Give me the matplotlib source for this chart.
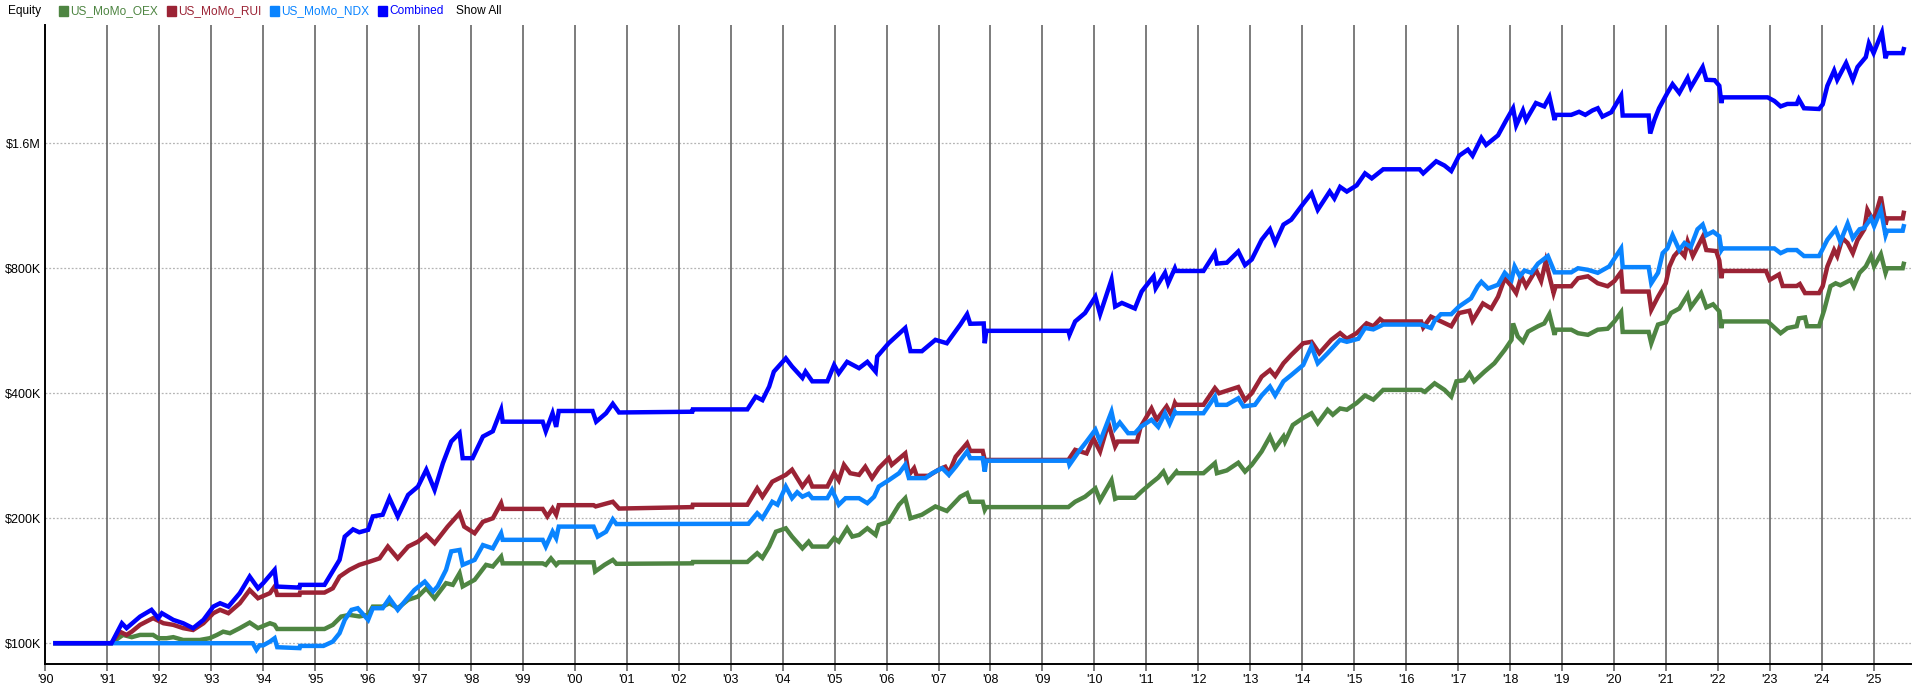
import matplotlib
matplotlib.use("Agg")
import matplotlib.pyplot as plt
from matplotlib.patches import Rectangle
from matplotlib.ticker import FixedLocator, NullLocator

plt.rcParams['font.family'] = ['Liberation Sans', 'DejaVu Sans']

# equity curves, (decimal year, equity in $K)
oex = [(1990.0, 100), (1991.08, 100), (1991.21, 102.8), (1991.30, 104.7), (1991.47, 103.4), (1991.63, 104.7),
       (1991.88, 104.7), (1991.98, 102.8), (1992.14, 102.8), (1992.27, 103.4), (1992.46, 101.8), (1992.78, 101.8),
       (1992.97, 102.8), (1993.11, 104.7), (1993.23, 106.6), (1993.36, 105.7), (1993.55, 108.7), (1993.74, 112.1),
       (1993.90, 108.7), (1994.13, 111.7), (1994.22, 110.7), (1994.27, 108.2), (1995.18, 108.2), (1995.34, 110.7),
       (1995.50, 115.9), (1995.66, 117), (1995.85, 116), (1996.02, 117), (1996.11, 122.5), (1996.30, 122.5),
       (1996.43, 124.8), (1996.59, 121.4), (1996.79, 127.2), (1996.98, 129.5), (1997.14, 135.6), (1997.30, 128.3),
       (1997.52, 139.5), (1997.65, 138.2), (1997.78, 147.4), (1997.84, 137), (1998.07, 142.1), (1998.29, 154.4),
       (1998.42, 153), (1998.58, 161.6), (1998.61, 155.7), (1999.38, 155.7), (1999.44, 154.4), (1999.54, 160),
       (1999.64, 154.4), (1999.69, 156.6), (2000.36, 156.6), (2000.39, 148.8), (2000.57, 154.4), (2000.73, 158.7),
       (2000.80, 155.3), (2002.26, 155.7), (2002.27, 156.9), (2003.32, 156.9), (2003.51, 164.7), (2003.61, 160.5),
       (2003.74, 170.9), (2003.87, 185.6), (2004.06, 189.1), (2004.18, 180.6), (2004.38, 169.2), (2004.50, 175.6),
       (2004.57, 170.9), (2004.86, 170.9), (2004.99, 179), (2005.08, 175.6), (2005.24, 189.1), (2005.34, 180.6),
       (2005.47, 182.3), (2005.63, 189.1), (2005.79, 182.3), (2005.85, 192.6), (2006.04, 196.1), (2006.24, 215.5),
       (2006.36, 223.5), (2006.46, 199.9), (2006.68, 203.9), (2006.94, 213.5), (2007.16, 208.2), (2007.42, 225.3),
       (2007.55, 229.8), (2007.61, 219.1), (2007.85, 219.1), (2007.89, 209.5), (2007.92, 212.7), (2009.50, 212.7),
       (2009.63, 219.1), (2009.82, 225.3), (2010.02, 236), (2010.11, 220.9), (2010.33, 246.8), (2010.40, 222.7),
       (2010.45, 224), (2010.78, 224), (2010.91, 232.1), (2011.10, 243.2), (2011.23, 250.6), (2011.33, 259),
       (2011.42, 245), (2011.58, 259), (2011.60, 256.7), (2012.10, 256.7), (2012.32, 271.4), (2012.36, 256.7),
       (2012.55, 260.7), (2012.77, 272), (2012.90, 259), (2013.03, 268.9), (2013.22, 289.6), (2013.38, 314.6),
       (2013.48, 294.9), (2013.64, 314.6), (2013.67, 306), (2013.82, 335.4), (2014.02, 348.7), (2014.18, 358),
       (2014.30, 338.7), (2014.49, 364.9), (2014.59, 355), (2014.73, 367.6), (2014.86, 365), (2015.05, 378.9),
       (2015.21, 395), (2015.37, 386), (2015.56, 407.5), (2016.29, 407.5), (2016.36, 403), (2016.55, 422.6),
       (2016.74, 407.5), (2016.87, 392.5), (2016.97, 427.3), (2017.12, 430), (2017.22, 446.7), (2017.31, 427.3),
       (2017.51, 450.8), (2017.70, 472.3), (2017.90, 508.8), (2018.03, 537.8), (2018.06, 589), (2018.15, 548),
       (2018.25, 532), (2018.35, 563), (2018.54, 580), (2018.66, 589), (2018.76, 620), (2018.86, 553),
       (2018.88, 569), (2019.18, 569), (2019.31, 558), (2019.50, 553), (2019.69, 569), (2019.88, 572),
       (2020.01, 595.6), (2020.14, 627), (2020.17, 562), (2020.67, 562), (2020.72, 527.8), (2020.85, 585.4),
       (2021.0, 593), (2021.10, 624), (2021.26, 640), (2021.42, 690), (2021.48, 644), (2021.68, 697),
       (2021.78, 644), (2021.91, 655), (2022.03, 630), (2022.07, 574), (2022.09, 595.6), (2022.96, 595.6),
       (2023.03, 585), (2023.21, 558), (2023.34, 574), (2023.52, 580), (2023.56, 606), (2023.68, 609),
       (2023.72, 580), (2023.95, 580), (2024.05, 635), (2024.17, 724), (2024.27, 736), (2024.36, 728),
       (2024.56, 750), (2024.62, 724), (2024.73, 780), (2024.85, 808), (2024.95, 856), (2025.01, 808),
       (2025.14, 865), (2025.23, 780), (2025.26, 800), (2025.56, 800), (2025.58, 820)]

rui = [(1990.0, 100), (1991.08, 100), (1991.24, 106.6), (1991.37, 104.7), (1991.47, 106.6), (1991.63, 110.7),
       (1991.88, 114.9), (1992.08, 111.7), (1992.27, 110.7), (1992.46, 108.7), (1992.65, 107.6), (1992.85, 111.7),
       (1993.04, 118.1), (1993.17, 120.3), (1993.33, 118.1), (1993.55, 124.8), (1993.74, 134.3), (1993.90, 128.3),
       (1994.13, 132), (1994.22, 136.9), (1994.27, 130.7), (1994.70, 130.7), (1994.71, 132.4), (1995.18, 132.4),
       (1995.34, 135.6), (1995.47, 144.7), (1995.66, 150.2), (1995.85, 154.4), (1996.05, 157.2), (1996.24, 160.1),
       (1996.40, 170.9), (1996.59, 160.1), (1996.79, 170.9), (1996.98, 175.6), (1997.14, 182.3), (1997.30, 174.1),
       (1997.55, 190.9), (1997.78, 205.6), (1997.87, 190.9), (1998.07, 184.0), (1998.23, 196.1), (1998.42, 199.9),
       (1998.58, 217.4), (1998.61, 210.6), (1999.38, 210.6), (1999.47, 202), (1999.57, 211), (1999.64, 203.9),
       (1999.69, 215), (2000.36, 215), (2000.40, 213.5), (2000.73, 219.1), (2000.85, 211), (2002.26, 212.7),
       (2002.27, 215.5), (2003.32, 215.5), (2003.51, 236.0), (2003.61, 225.3), (2003.80, 244.9), (2004.06, 254.3),
       (2004.18, 261.7), (2004.38, 238.4), (2004.50, 249.8), (2004.57, 238.4), (2004.86, 238.4), (2004.99, 256.7),
       (2005.08, 246.7), (2005.18, 268.9), (2005.30, 256.7), (2005.47, 254.3), (2005.59, 266), (2005.72, 249.8),
       (2005.85, 264), (2006.04, 279), (2006.10, 268.9), (2006.36, 286.5), (2006.43, 254.3), (2006.53, 264),
       (2006.58, 253), (2006.81, 253), (2007.0, 261.7), (2007.13, 266), (2007.20, 256.7), (2007.33, 281.3),
       (2007.55, 303.1), (2007.61, 290.5), (2007.85, 290.5), (2007.89, 276.3), (2009.50, 276.3), (2009.63, 292.2),
       (2009.85, 286.5), (2009.98, 311.6), (2010.11, 289.6), (2010.27, 338.7), (2010.40, 297.8), (2010.45, 306),
       (2010.82, 306), (2010.89, 331.9), (2011.10, 367.6), (2011.20, 345.3), (2011.39, 371.8), (2011.48, 355),
       (2011.55, 378.9), (2011.57, 375.1), (2012.10, 375.1), (2012.32, 411.5), (2012.40, 400), (2012.77, 414),
       (2012.90, 385), (2013.03, 400), (2013.22, 438.5), (2013.38, 454.8), (2013.48, 440), (2013.64, 472.3),
       (2013.79, 494.8), (2014.02, 527.8), (2014.18, 532), (2014.33, 499.3), (2014.56, 537.8), (2014.73, 558.3),
       (2014.86, 541), (2015.05, 558.3), (2015.24, 589.4), (2015.37, 580), (2015.50, 603.5), (2015.56, 595.6),
       (2016.29, 595.6), (2016.33, 576), (2016.48, 611.5), (2016.87, 580), (2017.02, 624), (2017.22, 632),
       (2017.28, 598), (2017.48, 658), (2017.64, 640), (2017.77, 683), (2017.90, 757), (2018.03, 724),
       (2018.12, 697), (2018.22, 765), (2018.31, 724), (2018.50, 793), (2018.60, 745), (2018.69, 832),
       (2018.76, 765), (2018.84, 697), (2018.88, 724), (2019.18, 724), (2019.31, 757), (2019.50, 765),
       (2019.69, 736), (2019.88, 724), (2020.01, 745), (2020.14, 784), (2020.17, 703), (2020.67, 703),
       (2020.72, 635), (2020.85, 683), (2021.0, 736), (2021.07, 808), (2021.16, 856), (2021.26, 885),
       (2021.36, 856), (2021.42, 927), (2021.52, 856), (2021.71, 952), (2021.78, 885), (2021.97, 880),
       (2022.03, 835), (2022.07, 757), (2022.09, 788), (2022.93, 788), (2023.0, 750), (2023.18, 773),
       (2023.25, 725), (2023.52, 725), (2023.58, 733), (2023.68, 697), (2023.95, 697), (2024.02, 724),
       (2024.11, 808), (2024.24, 885), (2024.30, 856), (2024.40, 945), (2024.50, 920), (2024.60, 870),
       (2024.69, 935), (2024.82, 993), (2024.88, 1106), (2024.98, 1047), (2025.05, 1088), (2025.14, 1190),
       (2025.23, 1019), (2025.26, 1055), (2025.56, 1055), (2025.58, 1088)]

ndx = [(1990.0, 100), (1993.80, 100), (1993.87, 96.4), (1993.93, 98.8), (1994.0, 98.8), (1994.13, 100.9),
       (1994.22, 102.8), (1994.27, 97.8), (1994.70, 97.3), (1994.71, 98.5), (1995.16, 98.5), (1995.34, 100.9),
       (1995.47, 105.7), (1995.57, 113.8), (1995.70, 120.3), (1995.82, 121.4), (1996.02, 113.8), (1996.11, 121.4),
       (1996.30, 121.4), (1996.43, 128.3), (1996.59, 120.3), (1996.75, 127.2), (1996.91, 134.3), (1997.11, 140.7),
       (1997.27, 133.2), (1997.36, 137.1), (1997.52, 150.2), (1997.62, 166.4), (1997.78, 167.7), (1997.84, 154.4),
       (1998.07, 158.7), (1998.23, 172.3), (1998.42, 169.2), (1998.58, 184), (1998.61, 177.4), (1999.38, 177.4),
       (1999.44, 170.9), (1999.57, 185.6), (1999.64, 179), (1999.69, 190.9), (2000.36, 190.9), (2000.44, 180.6),
       (2000.60, 185.6), (2000.73, 198.8), (2000.80, 193.6), (2003.34, 193.9), (2003.51, 205.6), (2003.61, 199.9),
       (2003.80, 219.1), (2003.90, 215.5), (2004.06, 238.4), (2004.18, 223.5), (2004.28, 231), (2004.38, 225.3),
       (2004.50, 229), (2004.57, 223.5), (2004.86, 223.5), (2004.95, 234), (2005.08, 215.5), (2005.21, 223.5),
       (2005.47, 223.5), (2005.63, 217.4), (2005.76, 225.3), (2005.85, 238.4), (2006.04, 246.8), (2006.24, 256.7),
       (2006.36, 268.9), (2006.43, 249.8), (2006.75, 249.8), (2006.88, 256.7), (2007.07, 264), (2007.20, 254.3),
       (2007.33, 266), (2007.55, 289.6), (2007.61, 279), (2007.85, 279), (2007.89, 259), (2007.92, 275.1),
       (2009.50, 275.1), (2009.52, 268.9), (2009.70, 289.6), (2009.85, 306), (2010.02, 326.8), (2010.11, 306),
       (2010.33, 361), (2010.40, 329), (2010.49, 340), (2010.65, 320.5), (2010.78, 320.5), (2010.89, 331.9),
       (2011.10, 345.3), (2011.23, 331.9), (2011.36, 358), (2011.45, 338), (2011.55, 361), (2011.57, 358),
       (2012.10, 358), (2012.32, 392.5), (2012.36, 375), (2012.55, 375), (2012.77, 389), (2012.87, 371.8),
       (2013.09, 375), (2013.22, 395), (2013.38, 415), (2013.48, 395), (2013.64, 427.3), (2013.79, 442.4),
       (2014.02, 467.8), (2014.18, 518.8), (2014.30, 472.3), (2014.49, 499.3), (2014.73, 537.8), (2014.86, 532),
       (2015.08, 541), (2015.21, 574.3), (2015.37, 570), (2015.56, 585.4), (2016.29, 585.4), (2016.48, 574.3),
       (2016.55, 598), (2016.67, 620), (2016.87, 620), (2017.02, 647), (2017.25, 677), (2017.38, 724),
       (2017.45, 742), (2017.58, 715), (2017.77, 730), (2017.90, 780), (2018.03, 750), (2018.09, 808),
       (2018.19, 765), (2018.28, 790), (2018.41, 780), (2018.54, 821), (2018.73, 856), (2018.79, 821),
       (2018.86, 782), (2019.18, 782), (2019.31, 800), (2019.50, 793), (2019.69, 780), (2019.91, 808),
       (2020.14, 893), (2020.17, 805), (2020.67, 805), (2020.72, 736), (2020.85, 780), (2020.94, 870),
       (2021.03, 893), (2021.13, 961), (2021.26, 885), (2021.36, 920), (2021.48, 900), (2021.61, 993),
       (2021.71, 1019), (2021.78, 961), (2021.91, 980), (2022.03, 955), (2022.07, 885), (2022.09, 893),
       (2023.09, 893), (2023.21, 870), (2023.34, 885), (2023.52, 885), (2023.66, 856), (2023.95, 856),
       (2024.11, 937), (2024.27, 993), (2024.36, 927), (2024.50, 1025), (2024.60, 945), (2024.73, 993),
       (2024.82, 1000), (2024.95, 1056), (2025.01, 1010), (2025.14, 1106), (2025.23, 961), (2025.26, 985),
       (2025.56, 985), (2025.58, 1010)]

combined = [(1990.0, 100), (1991.08, 100), (1991.28, 111.7), (1991.37, 108.7), (1991.63, 115.9), (1991.85, 120.3),
            (1991.98, 114.9), (1992.05, 118.1), (1992.27, 113.8), (1992.46, 111.7), (1992.65, 108.7), (1992.85, 113.8),
            (1993.04, 122.5), (1993.17, 124.8), (1993.33, 122.5), (1993.55, 132.0), (1993.74, 144.7), (1993.90, 135.6),
            (1994.0, 139.5), (1994.22, 150.2), (1994.26, 136.9), (1994.70, 136.1), (1994.71, 138.2), (1995.18, 138.2),
            (1995.47, 158.7), (1995.57, 180.6), (1995.73, 188), (1995.85, 185), (1996.02, 187.5), (1996.11, 202),
            (1996.30, 203.9), (1996.43, 223.5), (1996.59, 202), (1996.79, 227.6), (1996.98, 238.4), (1997.14, 261.7),
            (1997.30, 234), (1997.46, 271.4), (1997.62, 306), (1997.78, 320.5), (1997.84, 279), (1998.03, 279),
            (1998.23, 314.6), (1998.42, 323.9), (1998.58, 364.9), (1998.61, 341.6), (1999.38, 341.6), (1999.44, 323.9),
            (1999.57, 358), (1999.64, 331.9), (1999.69, 362.5), (2000.34, 362.5), (2000.41, 341.6), (2000.60, 358),
            (2000.73, 377.2), (2000.85, 359.5), (2002.26, 361), (2002.27, 365.7), (2003.32, 365.7), (2003.48, 392.5),
            (2003.61, 385), (2003.74, 415), (2003.83, 450.8), (2004.06, 485.5), (2004.18, 464), (2004.38, 435.5),
            (2004.44, 450.8), (2004.57, 427.3), (2004.86, 427.3), (2004.99, 467.8), (2005.08, 446.7), (2005.24, 476),
            (2005.47, 459.6), (2005.63, 476), (2005.79, 450.8), (2005.82, 490.4), (2006.04, 527.8), (2006.36, 574.3),
            (2006.46, 505.2), (2006.68, 505), (2006.94, 537.8), (2007.16, 527.8), (2007.42, 585.4), (2007.55, 619.9),
            (2007.61, 588), (2007.87, 589), (2007.89, 527.8), (2007.92, 565.4), (2009.50, 565.4), (2009.52, 553),
            (2009.63, 595.6), (2009.82, 624), (2010.02, 683), (2010.11, 619.9), (2010.33, 750.8), (2010.40, 647),
            (2010.53, 660), (2010.78, 640), (2010.91, 703), (2011.14, 765), (2011.18, 716), (2011.36, 780),
            (2011.42, 736), (2011.55, 800), (2011.57, 788), (2012.10, 788), (2012.32, 870), (2012.36, 821),
            (2012.55, 825), (2012.77, 878), (2012.90, 814), (2013.03, 840), (2013.22, 937), (2013.38, 993),
            (2013.48, 921), (2013.64, 1019), (2013.79, 1047), (2014.02, 1144), (2014.18, 1213), (2014.30, 1106),
            (2014.53, 1224), (2014.62, 1178), (2014.73, 1256), (2014.86, 1224), (2015.05, 1267), (2015.21, 1354),
            (2015.34, 1317), (2015.56, 1385), (2016.26, 1385), (2016.33, 1354), (2016.58, 1448), (2016.74, 1414),
            (2016.87, 1372), (2017.02, 1493), (2017.19, 1544), (2017.28, 1493), (2017.45, 1648), (2017.54, 1585),
            (2017.77, 1672), (2017.93, 1820), (2018.06, 1943), (2018.12, 1767), (2018.25, 1920), (2018.31, 1820),
            (2018.50, 2000), (2018.66, 1963), (2018.76, 2069), (2018.86, 1820), (2018.88, 1873), (2019.18, 1873),
            (2019.33, 1905), (2019.45, 1873), (2019.59, 1920), (2019.69, 1943), (2019.78, 1855), (2019.95, 1900),
            (2020.14, 2084), (2020.17, 1866), (2020.67, 1866), (2020.70, 1689), (2020.78, 1820), (2020.87, 1943),
            (2021.03, 2115), (2021.13, 2220), (2021.26, 2115), (2021.42, 2299), (2021.48, 2180), (2021.71, 2442),
            (2021.78, 2275), (2021.94, 2270), (2022.03, 2201), (2022.07, 2000), (2022.09, 2064), (2022.96, 2064),
            (2023.09, 2023), (2023.21, 1963), (2023.34, 1990), (2023.52, 1990), (2023.56, 2044), (2023.66, 1943),
            (2023.95, 1935), (2024.02, 1985), (2024.11, 2201), (2024.24, 2394), (2024.30, 2275), (2024.47, 2497),
            (2024.60, 2275), (2024.69, 2442), (2024.85, 2580), (2024.91, 2786), (2025.0, 2638), (2025.16, 2958),
            (2025.23, 2564), (2025.26, 2638), (2025.56, 2638), (2025.58, 2697)]

series_names = ["US_MoMo_OEX", "US_MoMo_RUI", "US_MoMo_NDX", "Combined"]
series_colors = ["#4e8542", "#9b2335", "#0a84ff", "#0000ff"]

y_ticks = [100, 200, 400, 800, 1600]
y_labels = ["$100K", "$200K", "$400K", "$800K", "$1.6M"]
year_ticks = list(range(1991, 2026))
year_labels = ["'%02d" % (y % 100) for y in year_ticks]

fig = plt.figure(figsize=(19.13, 6.93), dpi=100)
ax = fig.add_axes([45 / 1913, 1 - 664 / 693, 1866 / 1913, (664 - 25) / 693])

for data, color in zip([oex, rui, ndx, combined], series_colors):
    xs = [p[0] for p in data]
    ys = [p[1] for p in data]
    ax.plot(xs, ys, color=color, lw=3.2, solid_joinstyle='miter', zorder=3)

ax.set_yscale('log')
ax.set_ylim(89.1, 3083)
ax.set_xlim(1989.80, 2025.72)

ax.yaxis.set_major_locator(FixedLocator(y_ticks))
ax.yaxis.set_minor_locator(NullLocator())
ax.set_yticklabels(y_labels)
ax.tick_params(axis='y', length=0, pad=3, labelsize=9)

ax.set_xticks([1989.80] + year_ticks)
ax.set_xticklabels(["'90"] + year_labels)
ax.xaxis.set_minor_locator(NullLocator())
ax.tick_params(axis='x', length=5, width=1.2, color='#666666', pad=2.5, labelsize=9)

for y in y_ticks:
    ax.axhline(y, color='#b4b4b4', lw=0.9, ls=(0, (1.5, 1.5)), zorder=1)
for yr in year_ticks:
    ax.axvline(yr, color='#666666', lw=1.2, zorder=2)

for s in ['top', 'right']:
    ax.spines[s].set_visible(False)
ax.spines['left'].set_linewidth(1.4)
ax.spines['bottom'].set_linewidth(1.4)

# legend row at the top
ty = 1 - 11 / 693
fig.text(8 / 1913, ty, "Equity", fontsize=8.6, va='center', ha='left')
square_x = [59, 167, 270, 378]
label_x = [70, 178, 281, 389]
for sx, lx, name, color in zip(square_x, label_x, series_names, series_colors):
    fig.patches.append(Rectangle((sx / 1913, 1 - 16 / 693), 9 / 1913, 10 / 693,
                                 transform=fig.transFigure, color=color, figure=fig))
    fig.text(lx / 1913, ty, name, fontsize=8.6, va='center', ha='left', color=color)
fig.text(456 / 1913, ty, "Show All", fontsize=8.6, va='center', ha='left')

fig.savefig("out.png", dpi=100)
